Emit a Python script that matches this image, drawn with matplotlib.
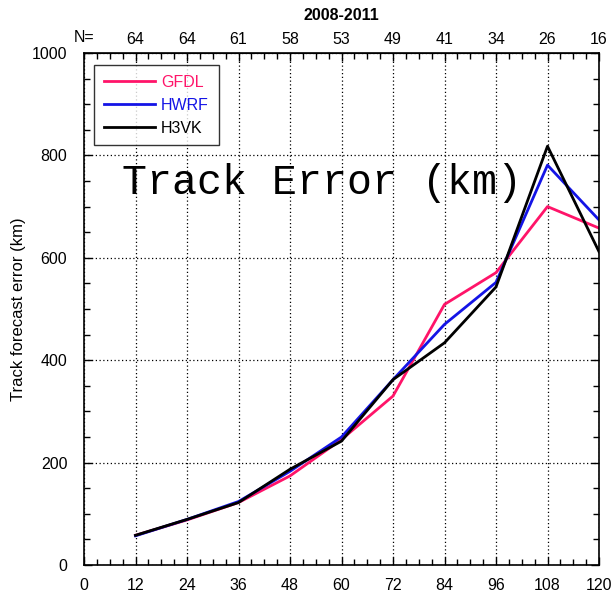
import matplotlib
matplotlib.use("Agg")
import matplotlib.pyplot as plt
from matplotlib.ticker import MultipleLocator

hours = [12, 24, 36, 48, 60, 72, 84, 96, 108, 120]
gfdl = [58, 88, 122, 174, 245, 330, 509, 571, 700, 658]
hwrf = [57, 89, 124, 183, 250, 362, 470, 552, 781, 674]
h3vk = [58, 89, 122, 187, 242, 362, 434, 543, 818, 612]
n_cases = [64, 64, 61, 58, 53, 49, 41, 34, 26, 16]
series_names = ["GFDL", "HWRF", "H3VK"]
series_colors = ["#ff1469", "#1414e6", "#000000"]

plt.rcParams['font.family'] = ['Liberation Sans', 'DejaVu Sans']

fig = plt.figure(figsize=(6.14, 5.95), dpi=100)
ax = fig.add_axes([84/614, 1-565/595, (599-84)/614, (565-53)/595])

for vals, name, col in zip([gfdl, hwrf, h3vk], series_names, series_colors):
    ax.plot(hours, vals, color=col, lw=2.0, label=name)

ax.set_xlim(0, 120)
ax.set_ylim(0, 1000)
ax.xaxis.set_major_locator(MultipleLocator(12))
ax.xaxis.set_minor_locator(MultipleLocator(3))
ax.yaxis.set_major_locator(MultipleLocator(200))
ax.yaxis.set_minor_locator(MultipleLocator(50))
ax.grid(True, which='major', linestyle=(0, (1, 2)), color='black', lw=0.9)
ax.tick_params(which='both', direction='in', top=False, right=True, labelsize=11.5)
ax.tick_params(which='major', length=6, width=1)
ax.tick_params(which='minor', length=4, width=1)
ax.tick_params(axis='y', pad=12)
ax.tick_params(axis='x', pad=9)
for sp in ax.spines.values():
    sp.set_linewidth(1.2)

ax.set_ylabel("Track forecast error (km)", fontsize=12, labelpad=4)

# top axis with N counts
top = ax.secondary_xaxis('top')
top.set_xticks(hours)
top.set_xticklabels([str(n) for n in n_cases])
top.xaxis.set_minor_locator(MultipleLocator(3))
top.tick_params(which='both', direction='in', labelsize=11.5, pad=4)
top.tick_params(which='major', length=6, width=1)
top.tick_params(which='minor', length=4, width=1)
fig.text(84/614, 1-37/595, "N=", fontsize=11.5, ha='center', va='center')
fig.text(341/614, 1-15/595, "2008-2011", fontsize=11.5, fontweight='bold', ha='center', va='center')

fig.text(122/614, 1-183/595, "Track Error (km)", family=['Liberation Mono', 'DejaVu Sans Mono'],
         fontsize=30, ha='left', va='center')

leg = ax.legend(loc='upper left', bbox_to_anchor=((94-84)/515, (565-65)/512), fontsize=11.5,
                frameon=True, fancybox=False, edgecolor='black', handlelength=3.2,
                borderpad=0.6, labelspacing=0.5, handletextpad=0.4, borderaxespad=0)
leg.get_frame().set_linewidth(1.0)
for txt, col in zip(leg.get_texts(), series_colors):
    txt.set_color(col)

fig.savefig("out.png", dpi=100)
